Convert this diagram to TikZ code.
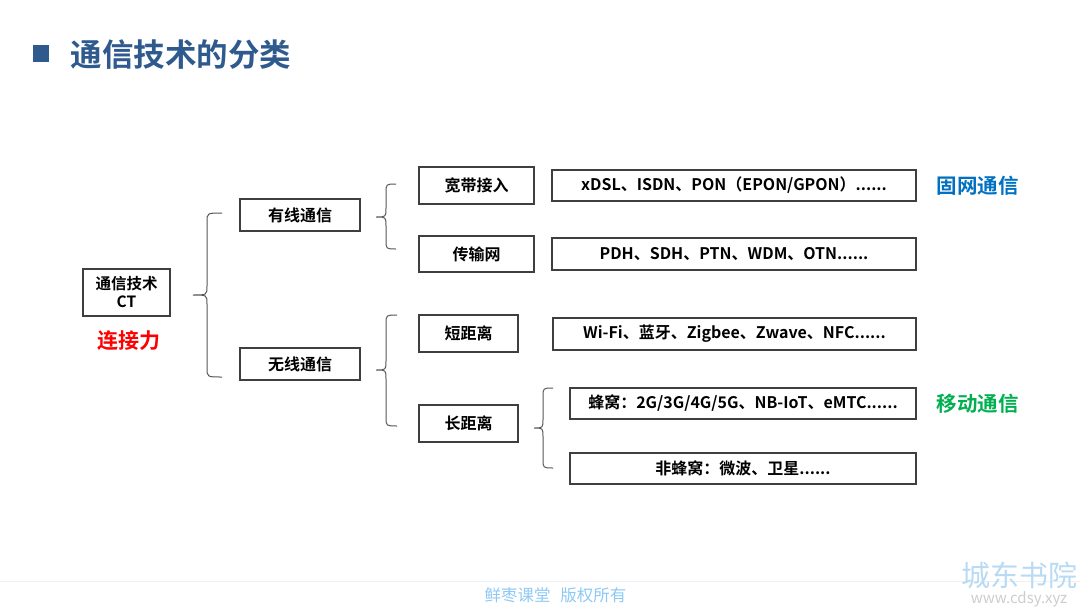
\documentclass[tikz,border=0pt]{standalone}
\usepackage{fontspec}
\setmainfont{Noto Sans CJK SC}[BoldFont={Noto Sans CJK SC Bold}]
\definecolor{boxgray}{HTML}{3F3F3F}
\definecolor{bracegray}{HTML}{555555}
\definecolor{titleblue}{HTML}{2F5A8E}
\definecolor{fixblue}{HTML}{0070C0}
\definecolor{mobgreen}{HTML}{00B050}
\definecolor{footblue}{HTML}{8EC9F5}
\definecolor{footline}{HTML}{EDEFF7}
\definecolor{wmblue}{HTML}{B8DAF3}
\definecolor{wmgray}{HTML}{CDCDCD}
\newcommand\cbrace[6]{%
  \pgfmathsetmacro\bA{#4+9}\pgfmathsetmacro\bB{#5-9}%
  \pgfmathsetmacro\bC{#5+9}\pgfmathsetmacro\bD{#6-9}%
  \draw[bracestyle] (#3,#4) .. controls (#2,#4) .. (#2,\bA) -- (#2,\bB)
    .. controls (#2,#5) .. (#1,#5) .. controls (#2,#5) .. (#2,\bC)
    -- (#2,\bD) .. controls (#2,#6) .. (#3,#6);}
\tikzset{
  box/.style={draw=boxgray, line width=1.1pt, inner sep=0pt, anchor=center,
    font=\bfseries\fontsize{16}{19}\selectfont, text=black, align=center},
  bracestyle/.style={draw=bracegray, line width=1pt},
  tag/.style={font=\bfseries\fontsize{20.5}{23}\selectfont, anchor=center},
}
\begin{document}
\begin{tikzpicture}[x=1pt,y=-1pt]
\useasboundingbox (0,0) rectangle (1080,608);
% title
\fill[titleblue] (33,45) rectangle (49,62);
\node[anchor=west, text=titleblue, font=\bfseries\fontsize{31.5}{35}\selectfont] (title) at (67,55) {通信技术的分类};
% nodes
\node[box, minimum width=87pt, minimum height=47pt, font=\bfseries\fontsize{15.5}{18}\selectfont] (ct) at (126.5,292.5) {通信技术\\CT};
\node[tag, text=red, font=\bfseries\fontsize{21}{24}\selectfont] (ljl) at (129,341) {连接力};
\node[box, minimum width=120pt, minimum height=32pt] (wired) at (300,215) {有线通信};
\node[box, minimum width=120pt, minimum height=32pt] (wireless) at (300,364) {无线通信};
\node[box, minimum width=115pt, minimum height=37pt] (bb) at (476.5,185.5) {宽带接入};
\node[box, minimum width=115pt, minimum height=36pt] (trans) at (476.5,254) {传输网};
\node[box, minimum width=364pt, minimum height=31pt] (xdsl) at (734,185.5) {xDSL、ISDN、PON（EPON/GPON）......};
\node[box, minimum width=364pt, minimum height=32pt] (pdh) at (734,254) {PDH、SDH、PTN、WDM、OTN......};
\node[box, minimum width=99pt, minimum height=37pt] (short) at (468.5,333.5) {短距离};
\node[box, minimum width=363pt, minimum height=32pt] (wifi) at (734.5,334) {Wi-Fi、蓝牙、Zigbee、Zwave、NFC......};
\node[box, minimum width=99pt, minimum height=37pt] (long) at (468.5,423.5) {长距离};
\node[box, minimum width=346pt, minimum height=31pt] (cell) at (743,403.5) {蜂窝：2G/3G/4G/5G、NB-IoT、eMTC......};
\node[box, minimum width=346pt, minimum height=31pt] (noncell) at (743,468.5) {非蜂窝：微波、卫星......};
\node[tag, text=fixblue] (gw) at (977.5,186) {固网通信};
\node[tag, text=mobgreen] (yd) at (977.5,404) {移动通信};
% braces
\cbrace{193}{207}{222}{213}{295}{377}
\cbrace{376}{386}{396}{184}{217}{249}
\cbrace{376}{386}{397}{315}{370}{426}
\cbrace{534}{543}{553}{388}{428}{468}
% footer
\draw[footline, line width=1pt] (0,581) -- (1080,581);
\node[anchor=center, text=footblue, font=\fontsize{16.5}{19}\selectfont] (foot) at (555.5,595) {鲜枣课堂\hspace{0.6em}版权所有};
\node[anchor=center, inner sep=0pt, text=wmblue, font=\fontsize{29}{30}\selectfont] (wm1) at (1019,575) {城东书院};
\node[anchor=center, inner sep=0pt, text=wmgray, font=\fontsize{15}{16}\selectfont] (wm2) at (1019,599) {www.cdsy.xyz};
\end{tikzpicture}
\end{document}
